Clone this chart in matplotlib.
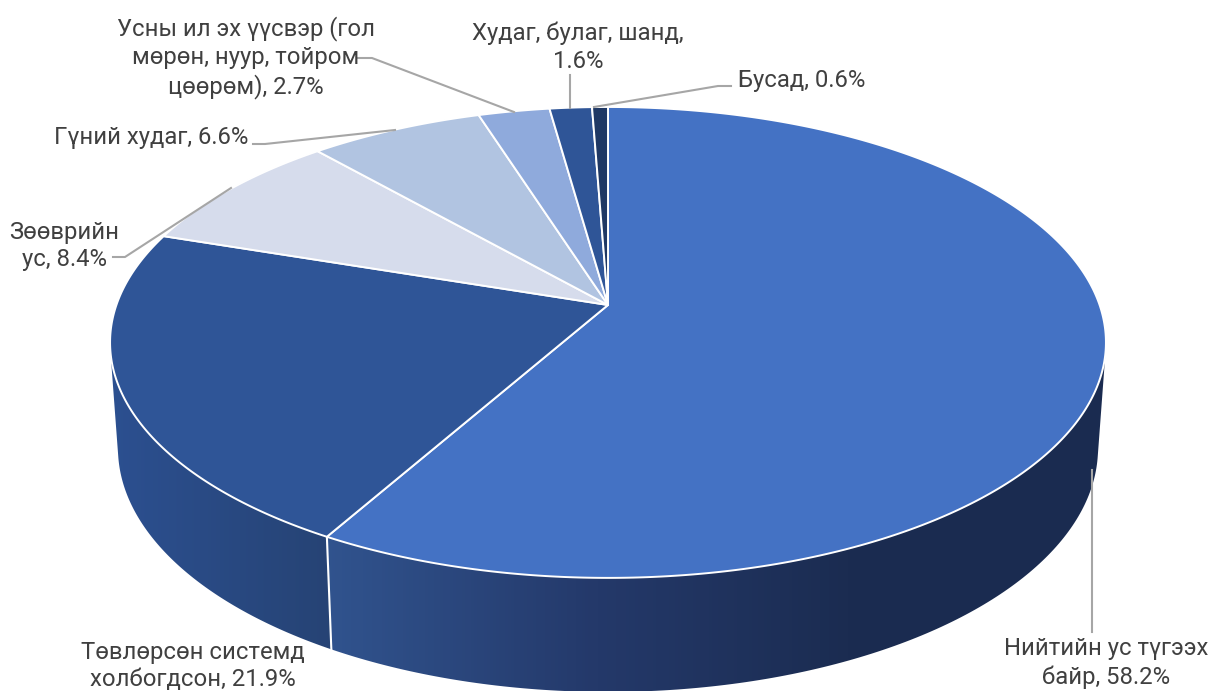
"""3D style pie of drinking water sources."""
import numpy as np
import matplotlib
matplotlib.use("Agg")
import matplotlib.pyplot as plt
from matplotlib.colors import LinearSegmentedColormap
from matplotlib.patches import Polygon

labels = [
    "Нийтийн ус түгээх\nбайр, 58.2%",
    "Төвлөрсөн системд\nхолбогдсон, 21.9%",
    "Зөөврийн\nус, 8.4%",
    "Гүний худаг, 6.6%",
    "Усны ил эх үүсвэр (гол\nмөрөн, нуур, тойром\nцөөрөм), 2.7%",
    "Худаг, булаг, шанд,\n1.6%",
    "Бусад, 0.6%",
]
values = [58.2, 21.9, 8.4, 6.6, 2.7, 1.6, 0.6]
top_colors = ["#4472C4", "#2F5597", "#D6DCEC", "#B1C4E1", "#8FAADC", "#2F5597", "#1F3864"]

# label position and alignment, in pixels
label_pos = [
    (1106, 663, "center"),
    (193, 666, "center"),
    (64, 246, "center"),
    (248, 137, "right"),
    (246, 58, "center"),
    (578, 47, "center"),
    (738, 80, "left"),
]
leaders = [
    [(1092, 470), (1092, 632)],
    [],
    [(113, 257), (125, 257), (231, 188)],
    [(253, 144), (265, 144), (395, 130)],
    [(358, 58), (372, 58), (514, 112)],
    [(570, 75), (570, 108)],
    [(731, 86), (718, 86), (594, 107)],
]

PERSP = -0.159
CX = 608


def project(theta, top=True):
    # theta is clockwise from 12 o'clock, on a perspective disc
    u, v = np.sin(theta), -np.cos(theta)
    w = 1 + PERSP * v
    if top:
        return CX + 491.6 * u / w, 305 + 229.5 * v / w
    return CX + 483.8 * u / w, 409.2 + 237.8 * v / w


def hull(points):
    # monotone chain, the top surface hides whatever it adds behind the rim
    pts = sorted(set(points))

    def half(seq):
        out = []
        for p in seq:
            while len(out) > 1 and ((out[-1][0] - out[-2][0]) * (p[1] - out[-2][1])
                                    - (out[-1][1] - out[-2][1]) * (p[0] - out[-2][0])) <= 0:
                out.pop()
            out.append(p)
        return out[:-1]

    return half(pts) + half(pts[::-1])


plt.rcParams["font.family"] = ["Roboto", "DejaVu Sans"]
fig = plt.figure(figsize=(12.2, 6.91), dpi=100)
ax = fig.add_axes([0, 0, 1, 1])

bounds = np.radians(np.concatenate([[0], np.cumsum(values)]) * 3.6)

wall_stops = {
    0: (320, 1110, [(0, "#31548F"), (0.35, "#24396A"), (0.67, "#1B2C51"), (1, "#1A2B50")]),
    1: (105, 335, [(0, "#2C5091"), (1, "#264374")]),
}

# side walls, only the two big front slices can be seen
for i, (x0, x1, stops) in wall_stops.items():
    th = np.linspace(bounds[i], bounds[i + 1], 300)
    xt, yt = project(th, True)
    xb, yb = project(th, False)
    outline = hull(list(zip(xt.tolist(), yt.tolist())) + list(zip(xb.tolist(), yb.tolist())))
    wall = Polygon(outline, closed=True, facecolor="none", edgecolor="none")
    ax.add_patch(wall)
    cmap = LinearSegmentedColormap.from_list(f"wall{i}", stops)
    im = ax.imshow(np.linspace(0, 1, 256)[None, :], cmap=cmap, aspect="auto",
                   extent=(x0, x1, 691, 0), zorder=1 + i * 0.1)
    im.set_clip_path(wall)

ax.set_xlim(0, 1220)
ax.set_ylim(691, 0)
ax.axis("off")

# seam between the two walls
xa, ya = project(bounds[1], True)
xb, yb = project(bounds[1], False)
ax.plot([xa, xb], [ya, yb], color="white", lw=1.5, zorder=2)

# top surface
for i, col in enumerate(top_colors):
    th = np.linspace(bounds[i], bounds[i + 1], max(4, int(values[i] * 8)))
    x, y = project(th, True)
    pts = [(CX, 305)] + list(zip(x, y))
    ax.add_patch(Polygon(pts, closed=True, facecolor=col, edgecolor="white", linewidth=1.4,
                         joinstyle="round", zorder=3))

for pts in leaders:
    if pts:
        ax.plot([p[0] for p in pts], [p[1] for p in pts], color="#A6A6A6", lw=1.5, zorder=4)

for lab, (px, py, ha) in zip(labels, label_pos):
    ax.text(px, py, lab, ha=ha, va="center", ma="center", fontsize=17.2, color="#404040",
            linespacing=1.27, zorder=5)

fig.savefig("out.png", dpi=100, facecolor="white")
